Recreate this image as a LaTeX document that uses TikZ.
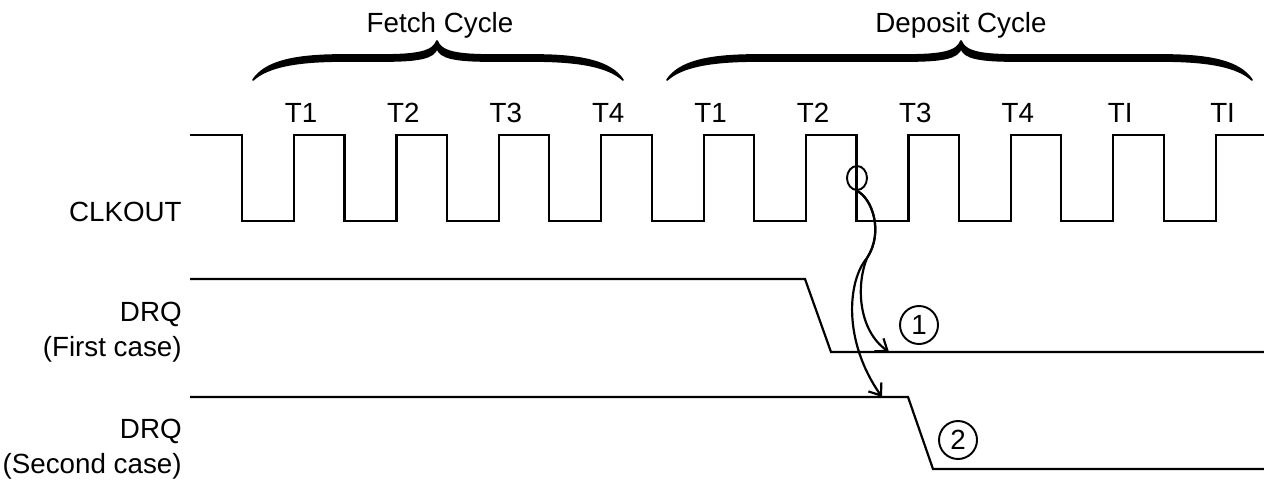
\documentclass[tikz,border=0pt]{standalone}
\usepackage{fontspec}
\setmainfont{Liberation Sans}
\usetikzlibrary{shapes.geometric, arrows.meta}

\tikzset{
  signal/.style={line width=1.25pt, line join=miter},
  cyclebrace/.style={fill=black, draw=black, line width=1pt, line join=round},
  tlabel/.style={anchor=base, inner sep=0pt},
  siglabel/.style={anchor=base east, inner sep=0pt},
  causal/.style={line width=1.25pt, -{Straight Barb[length=6pt, width=9pt]}},
  casemark/.style={draw, circle, line width=1.1pt, minimum size=0.76cm, inner sep=0pt},
  edgemark/.style={draw, ellipse, line width=1.1pt, minimum width=0.4cm, minimum height=0.48cm, inner sep=0pt}
}

% curly brace over a bus cycle: left x, tip x, right x
\newcommand{\cyclebrace}[3]{%
  \filldraw[cyclebrace] (#1,80) .. controls ({#1+12},62) and ({#1+40},55) .. ({#1+90},55)
    -- ({#2-55},55) .. controls ({#2-20},55) and ({#2-4},52) .. (#2,41)
    .. controls ({#2+4},52) and ({#2+20},55) .. ({#2+55},55)
    -- ({#3-90},55) .. controls ({#3-40},55) and ({#3-12},62) .. (#3,80)
    .. controls ({#3-14},67) and ({#3-42},61) .. ({#3-90},61)
    -- ({#2+55},61) .. controls ({#2+18},61) and ({#2+3},58) .. (#2,48)
    .. controls ({#2-3},58) and ({#2-18},61) .. ({#2-55},61)
    -- ({#1+90},61) .. controls ({#1+42},61) and ({#1+14},67) .. (#1,80) -- cycle;}

\begin{document}
\begin{tikzpicture}[x=0.02cm, y=-0.02cm, every node/.style={font=\fontsize{15.8pt}{19pt}\selectfont}]
  \useasboundingbox (0,0) rectangle (1264,484);

  % cycle braces
  \cyclebrace{253}{437}{623}
  \cyclebrace{667}{961}{1252}
  \node[tlabel] (fetch) at (440,32) {Fetch Cycle};
  \node[tlabel] (deposit) at (961,32) {Deposit Cycle};

  % T-state labels
  \foreach \lab [count=\k from 0] in {T1,T2,T3,T4,T1,T2,T3,T4,TI,TI}
    \node[tlabel] (t\k) at ({301+102.4*\k},122) {\lab};

  % clock
  \draw[signal] (190,135)
    \foreach \k in {0,...,9} {
      -- ({242+102.4*\k},135) -- ({242+102.4*\k},221)
      -- ({294+102.4*\k},221) -- ({294+102.4*\k},135)
    } -- (1264,135);

  % DRQ waveforms
  \draw[signal] (190,279) -- (805,279) -- (831,352) -- (1264,352);
  \draw[signal] (190,397) -- (908,397) -- (933,469) -- (1264,469);

  % signal names
  \node[siglabel] (clk) at (182,221) {CLKOUT};
  \node[siglabel] (drqa) at (182,321) {DRQ};
  \node[siglabel] (drqacase) at (182,356) {(First case)};
  \node[siglabel] (drqb) at (182,438) {DRQ};
  \node[siglabel] (drqbcase) at (182,473) {(Second case)};

  % sampling edge and cause arrows
  \node[edgemark] (sense) at (857,178) {};
  \coordinate (split) at (867,258);
  \coordinate (hit1) at (889,352);
  \coordinate (hit2) at (882,397);
  \draw[causal] (sense.south) .. controls (872,198) and (884,232) .. (split)
    .. controls (856,285) and (858,330) .. (hit1);
  \draw[causal] (sense.south) .. controls (872,198) and (884,232) .. (split)
    .. controls (848,280) and (842,340) .. (hit2);

  \node[casemark] (case1) at (919,325) {1};
  \node[casemark] (case2) at (958,440) {2};
\end{tikzpicture}
\end{document}
